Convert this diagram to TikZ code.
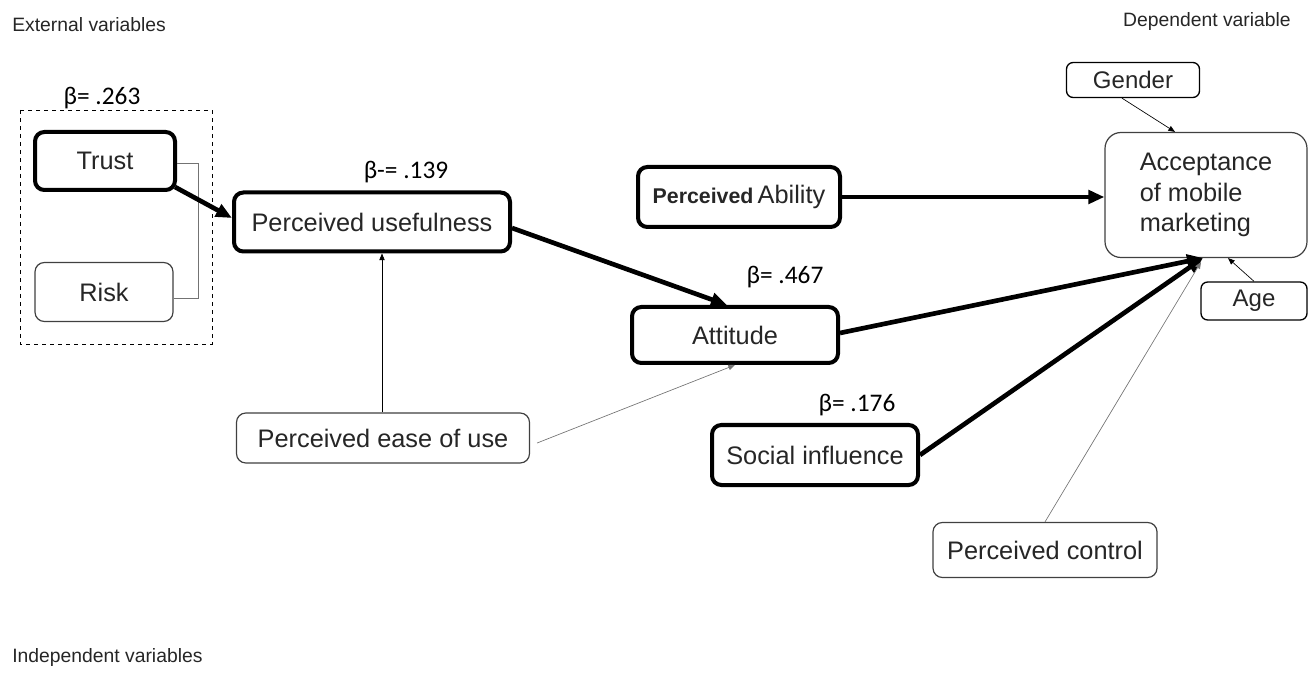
\documentclass[tikz,border=0pt]{standalone}
\usepackage{fontspec}
\setmainfont{Liberation Sans}
\newfontfamily\betafont{Carlito}
\usetikzlibrary{arrows.meta,calc}

\begin{document}
\begin{tikzpicture}[x=0.75pt,y=-0.75pt,
  sz/.style 2 args={minimum width=#1*0.75pt, minimum height=#2*0.75pt},
  box/.style={draw=black!75, rounded corners=7pt, line width=0.9pt, fill=white,
    inner sep=0pt, align=center, text=black!85, font=\fontsize{19}{23}\selectfont},
  heavybox/.style={box, draw=black, line width=3pt},
  smallbox/.style={box, draw=black, line width=1pt, rounded corners=5pt,
    font=\fontsize{18}{22}\selectfont},
  beta/.style={font=\betafont\fontsize{19}{22}\selectfont, inner sep=0pt},
  caption/.style={font=\fontsize{14.5}{17}\selectfont, inner sep=0pt, text=black!85},
  heavyarrow/.style={line width=3.5pt, -{Triangle[length=12pt,width=10pt]}},
  thinarrow/.style={line width=0.5pt, -{Triangle[length=5pt,width=4pt]}},
  greyarrow/.style={thinarrow, draw=black!55},
]
\useasboundingbox (0,0) rectangle (1311,677);

% side captions
\node[caption, anchor=west] (ext) at (12,25) {External variables};
\node[caption, anchor=east] (dep) at (1291,22) {Dependent variable};
\node[caption, anchor=west] (ind) at (12,657) {Independent variables};

% external variables group
\draw[dashed, line width=0.7pt] (20,110) rectangle (212,344);
\node[beta] (b1) at (102,98) {β= .263};
\node[heavybox, sz={140}{58}] (trust) at (105,161) {Trust};
\node[box, sz={138}{59}] (risk) at (104,292) {Risk};
\draw[black!55, line width=0.7pt] (trust.east |- 0,163) -- (198,163) -- (198,298) -- (risk.east |- 0,298);

% model constructs
\node[heavybox, sz={276}{59}] (pu) at (372,222) {Perceived usefulness};
\node[beta] (b2) at (406,172) {β-= .139};
\node[box, sz={293}{50}] (peou) at (383,438) {Perceived ease of use};
\node[heavybox, sz={202}{60}] (pa) at (739,197)
  {{\bfseries\fontsize{16}{19}\selectfont Perceived}\,Ability};
\node[heavybox, sz={206}{56}] (att) at (735,335) {Attitude};
\node[beta] (b3) at (785,277) {β= .467};
\node[heavybox, sz={206}{60}] (si) at (815,455) {Social influence};
\node[beta] (b4) at (857,405) {β= .176};
\node[box, sz={224}{55}] (pc) at (1045,550) {Perceived control};

% dependent variable and moderators
\node[box, sz={202}{125}, rounded corners=12pt, align=left] (acc) at (1206,195)
  {Acceptance\\of mobile\\marketing};
\node[smallbox, sz={133}{35}] (gender) at (1133,80) {Gender};
\node[smallbox, sz={106}{38}] (age) at (1254,301) {Age};
\coordinate (conv) at (1203,258);

% paths
\draw[heavyarrow] ($(trust.south east)+(-2,-5)$) -- ($(pu.west)+(0,-4)$);
\draw[heavyarrow] ($(pu.east)+(0,6)$) -- ($(att.north)+(-8,0)$);
\draw[heavyarrow] (pa.east) -- (acc.west |- pa.east);
\draw[heavyarrow] ($(att.east)+(0,-2)$) -- (conv);
\draw[heavyarrow] (si.east) -- (conv);
\draw[greyarrow] (pc.north) -- ($(conv)+(-2,4)$);
\draw[thinarrow] (peou.north -| 382,0) -- (pu.south -| 382,0);
\draw[greyarrow] ($(peou.east)+(7,5)$) -- (att.south);
\draw[thinarrow] ($(gender.south)+(-11,0)$) -- ($(acc.north)+(-31,0)$);
\draw[thinarrow] (age.north) -- ($(acc.south)+(22,0)$);
\end{tikzpicture}
\end{document}
